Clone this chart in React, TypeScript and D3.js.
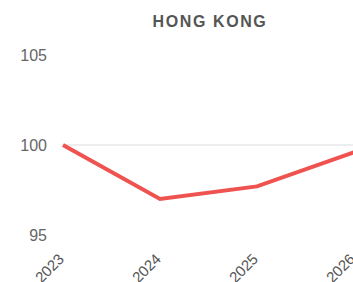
import React, { useEffect, useRef } from 'react';
import * as d3 from 'd3';

const years = ['2023', '2024', '2025', '2026'];
const values = [100, 97.0, 97.7, 99.6];
const yTicks = [95, 100, 105];
const title = 'HONG KONG';

const App: React.FC = () => {
  const svgRef = useRef<SVGSVGElement>(null);

  useEffect(() => {
    if (!svgRef.current) return;
    const svg = d3.select(svgRef.current);
    svg.selectAll('*').remove();

    const width = 353;
    const height = 282;
    svg.attr('width', width).attr('height', height);

    const x = d3.scalePoint<string>().domain(years).range([63, 354]);
    const y = d3.scaleLinear().domain([95, 105]).range([235, 55]);
    const font = '"Liberation Sans", Arial, sans-serif';

    svg
      .append('text')
      .attr('x', 210)
      .attr('y', 27)
      .attr('text-anchor', 'middle')
      .attr('font-family', font)
      .attr('font-weight', 'bold')
      .attr('font-size', 16)
      .attr('letter-spacing', 1.6)
      .attr('fill', '#555')
      .text(title);

    svg
      .append('line')
      .attr('x1', x('2023')!)
      .attr('x2', width)
      .attr('y1', y(100))
      .attr('y2', y(100))
      .attr('stroke', '#ddd')
      .attr('stroke-width', 1);

    svg
      .selectAll('text.ytick')
      .data(yTicks)
      .enter()
      .append('text')
      .attr('class', 'ytick')
      .attr('x', 47)
      .attr('y', (d) => y(d))
      .attr('dy', '0.35em')
      .attr('text-anchor', 'end')
      .attr('font-family', font)
      .attr('font-size', 16)
      .attr('fill', '#666')
      .text((d) => d);

    svg
      .selectAll('text.xtick')
      .data(years)
      .enter()
      .append('text')
      .attr('class', 'xtick')
      .attr('transform', (d) => `translate(${x(d)! + 2},${260}) rotate(-45)`)
      .attr('text-anchor', 'end')
      .attr('font-family', font)
      .attr('font-size', 15)
      .attr('fill', '#555')
      .text((d) => d);

    const line = d3
      .line<number>()
      .x((_, i) => x(years[i])!)
      .y((d) => y(d));

    svg
      .append('path')
      .datum(values)
      .attr('fill', 'none')
      .attr('stroke', '#ef5350')
      .attr('stroke-width', 4)
      .attr('d', line as any);
  }, []);

  return <svg ref={svgRef} style={{ position: 'absolute', left: 0, top: 0 }}></svg>;
};

export default App;
